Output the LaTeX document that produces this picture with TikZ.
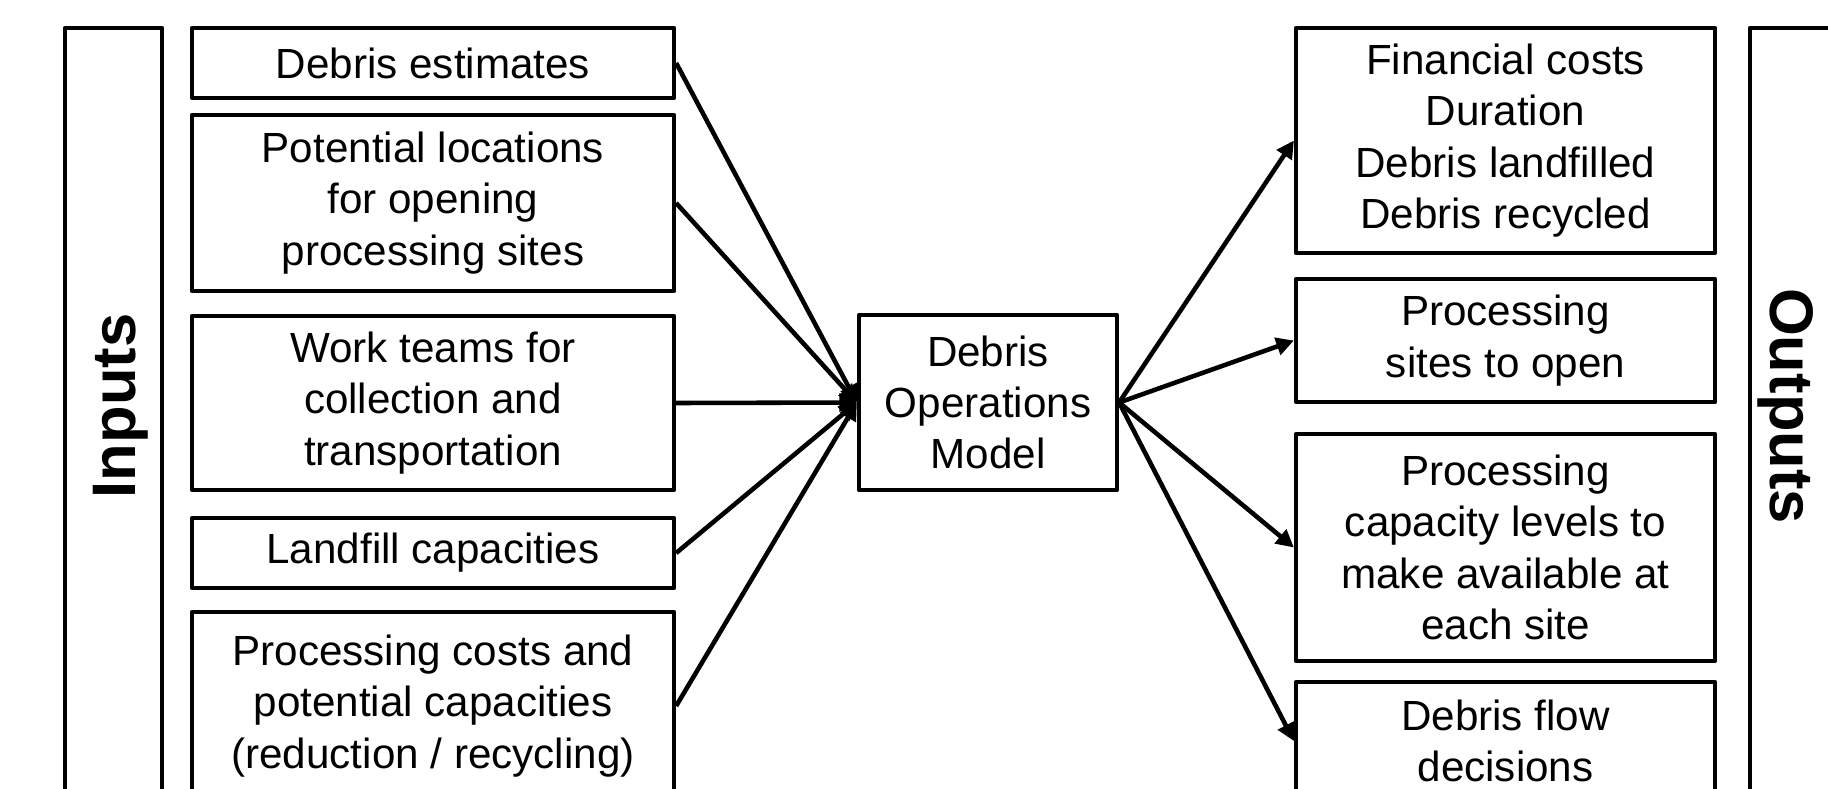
\documentclass[tikz,border=0pt]{standalone}
\usepackage{fontspec}
\setmainfont{Liberation Sans}
\usetikzlibrary{arrows.meta}

\tikzset{
  box/.style={draw, line width=1.2pt, align=center, inner sep=2pt,
    font=\fontsize{12}{14.6}\selectfont},
  side/.style={font=\fontsize{17.5}{20}\selectfont\bfseries, inner sep=0pt},
  flow/.style={line width=1.3pt, -{Triangle[length=5pt,width=5pt]}}
}

\begin{document}
\begin{tikzpicture}[line join=round]
  \useasboundingbox (0,0) rectangle (18.28,-7.88);

  % side bars
  \draw[line width=1.2pt] (0.65,-0.28) rectangle (1.62,-8.00);
  \node[side, rotate=90] (inputs) at (1.21,-4.06) {Inputs};
  \draw[line width=1.2pt] (17.50,-0.28) rectangle (18.60,-8.00);
  \node[side, rotate=-90] (outputs) at (17.86,-4.06) {Outputs};

  % input column
  \node[box, minimum width=4.82cm, minimum height=0.70cm] (in1) at (4.33,-0.63) {Debris estimates};
  \node[box, minimum width=4.82cm, minimum height=1.76cm] (in2) at (4.33,-2.03)
    {Potential locations\\ for opening\\ processing sites};
  \node[box, minimum width=4.82cm, minimum height=1.74cm] (in3) at (4.33,-4.03)
    {Work teams for\\ collection and\\ transportation};
  \node[box, minimum width=4.82cm, minimum height=0.70cm] (in4) at (4.33,-5.53) {Landfill capacities};
  \node[box, minimum width=4.82cm, minimum height=1.88cm] (in5) at (4.33,-7.06)
    {Processing costs and\\ potential capacities\\ (reduction / recycling)};

  % model
  \node[box, minimum width=2.58cm, minimum height=1.75cm] (model) at (9.88,-4.025)
    {Debris\\ Operations\\ Model};

  % output column
  \node[box, minimum width=4.19cm, minimum height=2.25cm] (out1) at (15.055,-1.405)
    {Financial costs\\ Duration\\ Debris landfilled\\ Debris recycled};
  \node[box, minimum width=4.19cm, minimum height=1.23cm] (out2) at (15.055,-3.405)
    {Processing\\ sites to open};
  \node[box, minimum width=4.19cm, minimum height=2.27cm] (out3) at (15.055,-5.475)
    {Processing\\ capacity levels to\\ make available at\\ each site};
  \node[box, minimum width=4.19cm, minimum height=1.18cm] (out4) at (15.055,-7.41)
    {Debris flow\\ decisions};

  % arrows
  \foreach \n in {in1, in2, in3, in4, in5} { \draw[flow] (\n.east) -- (model.west); }
  \foreach \n in {out1, out2, out3, out4} { \draw[flow] (model.east) -- (\n.west); }
\end{tikzpicture}
\end{document}
